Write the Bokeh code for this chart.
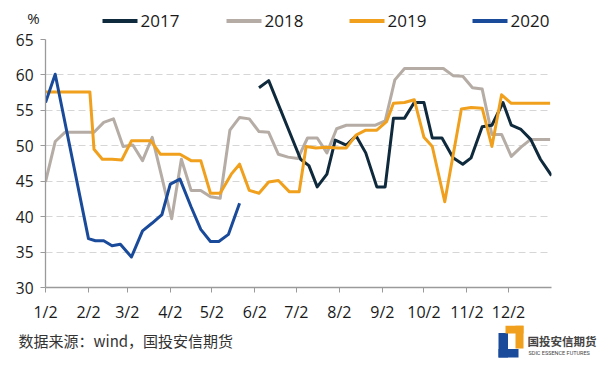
from bokeh.plotting import figure
from bokeh.layouts import column
from bokeh.models import Range1d, FixedTicker
from bokeh.core.properties import value
from bokeh.embed import file_html
from bokeh.resources import INLINE

# ---------------- data (days since Jan 2, value in %) ----------------
days_2017 = [154, 161, 184, 190, 196, 203, 209, 217, 224, 231, 239, 245, 251, 259, 266,
             273, 279, 286, 294, 301, 307, 315, 322, 330, 336, 343, 350, 357, 365]
vals_2017 = [58.2, 59.2, 48.1, 47.2, 44.2, 46.0, 50.8, 50.1, 51.4, 49.0, 44.2, 44.2, 53.9, 53.9, 56.1,
             56.1, 51.1, 51.1, 48.3, 47.4, 48.3, 52.7, 52.9, 56.1, 52.9, 52.3, 50.9, 48.1, 45.8]

days_2018 = list(range(0, 365, 7))
vals_2018 = [44.9, 50.6, 51.9, 51.9, 51.9, 51.9, 53.3, 53.8, 49.9, 50.1, 47.9, 51.2, 45.5, 39.7,
             48.1, 43.7, 43.7, 42.8, 42.6, 52.2, 54.0, 53.8, 52.0, 51.9, 48.8, 48.4, 48.2, 51.1,
             51.1, 49.0, 52.4, 52.9, 52.9, 52.9, 52.9, 53.5, 59.3, 60.9, 60.9, 60.9, 60.9, 60.9,
             59.9, 59.8, 58.2, 58.0, 51.6, 51.6, 48.5, 49.8, 50.9, 50.9, 50.9]

days_2019 = [0, 7, 14, 21, 28, 32, 35, 41, 48, 55, 62, 69, 76, 83, 90, 97, 105, 112, 119, 126,
             134, 140, 147, 154, 161, 168, 176, 183, 188, 195, 203, 211, 217, 224, 231, 239,
             246, 251, 259, 266, 273, 279, 288, 300, 307, 315, 322, 329, 336, 343, 350, 357, 364]
vals_2019 = [57.6, 57.6, 57.6, 57.6, 57.6, 57.6, 49.5, 48.1, 48.1, 48.0, 50.7, 50.7, 50.7, 48.8,
             48.8, 48.8, 47.9, 47.9, 43.3, 43.3, 46.0, 47.4, 43.7, 43.3, 44.9, 45.1, 43.5, 43.5,
             49.9, 49.7, 49.8, 49.7, 49.7, 51.5, 52.2, 52.2, 53.4, 56.0, 56.1, 56.5, 51.2, 49.9,
             42.1, 55.2, 55.4, 55.3, 49.9, 57.2, 56.0, 56.0, 56.0, 56.0, 56.0]

days_2020 = [0, 7, 31, 36, 42, 48, 54, 62, 70, 77, 84, 90, 97, 105, 112, 119, 125, 132, 140]
vals_2020 = [56.1, 60.1, 36.9, 36.6, 36.6, 35.9, 36.1, 34.3, 38.0, 39.1, 40.3, 44.6, 45.3, 41.4,
             38.2, 36.5, 36.5, 37.5, 41.9]

series_names = ["2017", "2018", "2019", "2020"]
tick_days = [0, 31, 59, 90, 120, 151, 181, 212, 243, 273, 304, 334]
tick_labels = ["1/2", "2/2", "3/2", "4/2", "5/2", "6/2", "7/2", "8/2", "9/2", "10/2", "11/2", "12/2"]
y_ticks = [30, 35, 40, 45, 50, 55, 60, 65]
unit_label = "%"
source_note = "数据来源：wind，国投安信期货"
logo_cn = "国投安信期货"
logo_en = "SDIC ESSENCE FUTURES"

COLORS = ["#0f2a3c", "#b5aca5", "#f0a01c", "#1a4a9a"]
NUM_FONT = "Open Sans"
CJK_FONT = "Noto Sans CJK SC"
W = 600


def strip(h, y0):
    """A decoration strip whose frame fills the canvas; coordinates are page pixels."""
    s = figure(width=W, height=h, output_backend="svg", toolbar_location=None,
               x_range=Range1d(0, W), y_range=Range1d(y0 + h, y0),
               x_axis_location=None, y_axis_location=None, frame_align=False,
               min_border_left=0, min_border_right=0, min_border_top=0, min_border_bottom=0)
    s.grid.visible = False
    s.outline_line_color = None
    s.background_fill_color = "white"
    s.border_fill_color = "white"
    return s


# ---------------- top strip: unit + legend ----------------
TOP_H = 30
top = strip(TOP_H, 0)
top.text(x=[33], y=[17.5], text=[unit_label], text_font=value(NUM_FONT),
         text_font_size=value("15px"), text_color="#1a1a1a",
         text_align="center", text_baseline="middle")
leg_x0 = [102, 226, 349, 472]
top.segment(x0=leg_x0, y0=[20.5] * 4, x1=[x + 35 for x in leg_x0], y1=[20.5] * 4,
            line_color=COLORS, line_width=4)
top.text(x=[x + 38 for x in leg_x0], y=[20] * 4, text=series_names,
         text_font=value(NUM_FONT), text_font_size=value("17px"), text_color="#1a1a1a",
         text_align="left", text_baseline="middle")

# ---------------- main chart (frame: page x 45..551, y 39..293) ----------------
p = figure(width=W, height=325 - TOP_H, output_backend="svg", toolbar_location=None,
           x_range=Range1d(0, 365), y_range=Range1d(30, 65), frame_align=False,
           min_border_left=45, min_border_right=W - 551,
           min_border_top=39 - TOP_H, min_border_bottom=325 - 293)
p.outline_line_color = None
p.background_fill_color = "white"
p.border_fill_color = "white"

p.yaxis.ticker = FixedTicker(ticks=y_ticks)
p.yaxis.axis_line_color = "#9a9a9a"
p.yaxis.axis_line_width = 1.3
p.yaxis.major_tick_line_color = "#9a9a9a"
p.yaxis.major_tick_out = 5
p.yaxis.major_tick_in = 0
p.yaxis.minor_tick_line_color = None
p.yaxis.major_label_standoff = 7
p.yaxis.major_label_text_font = NUM_FONT
p.yaxis.major_label_text_font_size = "15.5px"
p.yaxis.major_label_text_color = "#1a1a1a"

p.xaxis.ticker = FixedTicker(ticks=tick_days)
p.xaxis.major_label_overrides = {d: l for d, l in zip(tick_days, tick_labels)}
p.xaxis.axis_line_color = "#9a9a9a"
p.xaxis.axis_line_width = 1.3
p.xaxis.major_tick_line_color = "#9a9a9a"
p.xaxis.major_tick_out = 5
p.xaxis.major_tick_in = 0
p.xaxis.minor_tick_line_color = None
p.xaxis.major_label_standoff = 8
p.xaxis.major_label_text_font = NUM_FONT
p.xaxis.major_label_text_font_size = "16px"
p.xaxis.major_label_text_color = "#1a1a1a"

p.xgrid.grid_line_color = None
p.ygrid.grid_line_color = "#d6d6d6"
p.ygrid.grid_line_dash = "7 4"
p.ygrid.grid_line_width = 1

p.line(days_2018, vals_2018, line_color=COLORS[1], line_width=3, line_join="round")
p.line(days_2017, vals_2017, line_color=COLORS[0], line_width=3, line_join="round")
p.line(days_2019, vals_2019, line_color=COLORS[2], line_width=3, line_join="round")
p.line(days_2020, vals_2020, line_color=COLORS[3], line_width=3, line_join="round")

# ---------------- bottom strip: source + logo ----------------
bot = strip(365 - 325, 325)
bot.text(x=[18], y=[339.5], text=[source_note], text_font=value(CJK_FONT),
         text_font_size=value("15px"), text_color="#333333",
         text_align="left", text_baseline="middle")
LB, LO = "#1a4a9a", "#f0a01c"
bot.quad(left=[498, 498, 505, 515], right=[507.5, 518, 523, 523],
         top=[332.5, 348.5, 325, 325], bottom=[357, 357, 333, 348],
         fill_color=[LB, LB, LO, LO], line_color=None)
bot.text(x=[527], y=[340.5], text=[logo_cn], text_font=value(CJK_FONT),
         text_font_size=value("11.5px"), text_font_style="bold", text_color="#444444",
         text_align="left", text_baseline="middle")
bot.text(x=[528], y=[352.5], text=[logo_en], text_font=value("Roboto"),
         text_font_size=value("5.5px"), text_color="#444444",
         text_align="left", text_baseline="middle")

layout = column(top, p, bot, spacing=0)
open("out.html", "w").write(file_html(layout, INLINE))
